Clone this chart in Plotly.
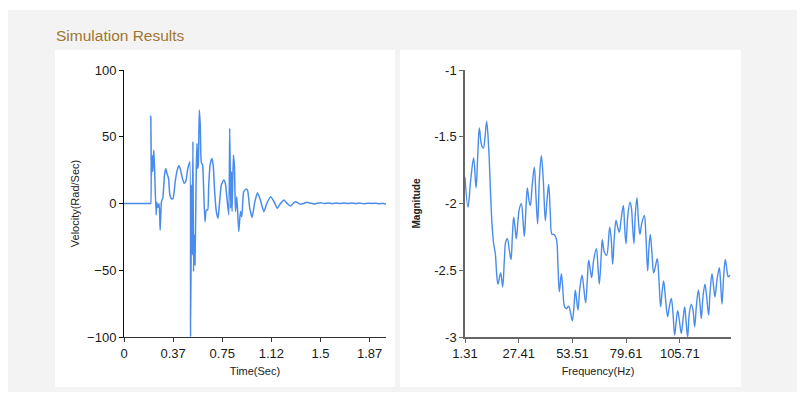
import plotly.graph_objects as go

# ---- Velocity vs time (left chart) ----
time_s = [0.0, 0.1, 0.19, 0.2, 0.204, 0.205, 0.2095, 0.2146, 0.2197, 0.2273, 0.2324, 0.2452, 0.2503, 0.258, 0.268,
          0.276, 0.286, 0.296, 0.309, 0.319, 0.3295, 0.340, 0.350, 0.365, 0.3755, 0.391, 0.406,
          0.419, 0.432, 0.447, 0.460, 0.4725, 0.485, 0.498, 0.503, 0.508, 0.516, 0.521, 0.526,
          0.531, 0.536, 0.5415, 0.5466, 0.552, 0.557, 0.562, 0.567, 0.575, 0.582, 0.590, 0.600,
          0.608, 0.618, 0.628, 0.639, 0.646, 0.657, 0.672, 0.682, 0.692, 0.705, 0.718, 0.728,
          0.743, 0.762, 0.774, 0.787, 0.800, 0.807, 0.815, 0.820, 0.825, 0.835, 0.843, 0.851,
          0.861, 0.876, 0.889, 0.899, 0.914, 0.932, 0.943, 0.960, 0.978, 0.999, 1.019, 1.04,
          1.068, 1.09, 1.119, 1.145, 1.170, 1.195, 1.221, 1.245, 1.272, 1.29, 1.310, 1.33,
          1.349, 1.375, 1.400, 1.425, 1.451, 1.475, 1.502, 1.53, 1.56, 1.59, 1.62, 1.65, 1.68,
          1.71, 1.74, 1.77, 1.80, 1.83, 1.86, 1.89, 1.92, 1.95, 1.98, 2.0]
velocity = [0, 0, 0, 0, 0, 65.5, 21, 36, 24, 40, 29, -8.6, 1, -3, 0,
            -20, 1.4, 4, 21, 26.3, 22, 18.9, 6.4, 3.4, 4, 16.5, 25,
            28.3, 25, 18.3, 15.1, 16.9, 25, 30, 31.3, -99.8, 14, -38.6, 46.3,
            -51, -23.6, -46, -13.6, 27.6, 45, 26.3, 28.8, 70, 58.8, 31, 28.8,
            11, -13.6, -4.9, -4.9, 11.4, 28.8, 33.8, 27.6, 8.9, -6, -11, -1,
            13.9, 17.6, 15, 2.6, -8.6, 56.3, -3.6, 23.8, -6, 36.3, 27.6, -6,
            5, -21, -6, -10, 8.9, 10.6, 10, -3.6, -10.4, 1.4, 8.1, 3,
            -6.1, 0, 5.1, 1.5, -3.6, 0, 2.6, 0, -1.9, 0, 1.4, 0.3,
            -0.6, 0.2, 0.9, 0.2, -0.4, 0.2, 0.6, 0, 0.4, -0.1, 0.4, 0, 0.3,
            0, 0.3, -0.1, 0.3, -0.1, 0.2, 0, 0.2, -0.1, 0, -0.3]
time_tickvals = [0, 0.375, 0.75, 1.125, 1.5, 1.875]
time_ticktext = ["0", "0.37", "0.75", "1.12", "1.5", "1.87"]
vel_tickvals = [-100, -50, 0, 50, 100]

# ---- Magnitude vs frequency (right chart) ----
freq_hz = [1.31, 2.77, 4.06, 5.52, 6.66, 7.47, 8.28, 9.25, 10.22, 11.03, 11.84, 12.81, 13.62,
           14.43, 15.24, 16.05, 16.70, 17.35, 18.64, 19.62, 20.43, 21.07, 21.88, 22.86, 23.67,
           24.31, 24.96, 25.61, 26.26, 27.07, 27.72, 28.69, 29.50, 30.15, 30.96, 31.60, 32.41,
           33.06, 34.03, 35.01, 35.82, 36.63, 37.44, 38.41, 39.38, 40.35, 41.16, 41.97, 42.78,
           43.59, 44.56, 45.70, 46.51, 47.16, 48.13, 48.78, 49.75, 50.72, 51.69, 52.66, 53.47,
           54.28, 54.93, 55.58, 56.23, 57.04, 58.17, 58.98, 59.95, 60.76, 61.41, 62.22, 62.87,
           63.84, 65.14, 65.95, 66.60, 67.57,
           68.05, 69.03, 70.16, 71.62, 72.43, 73.08, 73.89, 74.70, 75.51, 76.32, 77.13, 78.26,
           78.91, 79.56, 80.37, 81.50, 82.15, 82.80, 83.44, 84.09, 84.90, 85.71, 86.36, 87.17,
           88.47, 89.11, 90.09, 90.73, 91.38, 92.19, 93.00, 93.81, 94.78, 95.59, 96.40, 97.05,
           97.86, 98.83, 99.81, 100.62, 101.59, 102.40, 103.21, 103.86, 104.67, 105.48, 106.45,
           107.26, 108.07, 108.72, 109.53, 110.34, 111.31, 112.12, 112.93, 113.74, 114.71,
           115.52, 116.17, 116.98, 117.95, 118.76, 119.73, 120.38, 121.35, 122.16, 122.81,
           123.78, 124.92, 125.56, 126.21, 127.02, 127.83, 128.64, 129.29, 130.10]
magnitude = [-1.803, -2.027, -1.828, -1.659, -1.883, -1.654, -1.435, -1.555, -1.585, -1.505, -1.386,
             -1.580, -1.878, -2.152, -2.301, -2.376, -2.525, -2.604, -2.520, -2.624, -2.425, -2.289,
             -2.264, -2.351, -2.420, -2.251, -2.102, -2.177, -2.264, -2.127, -2.040, -2.002, -2.127,
             -2.246, -2.027, -1.883, -1.978, -2.015, -1.853, -1.729, -1.953, -2.152, -1.828, -1.642,
             -1.828, -2.127, -1.978, -1.858, -2.077, -2.231, -2.231, -2.264, -2.475, -2.662, -2.525,
             -2.624, -2.774, -2.786, -2.769, -2.823, -2.878, -2.774, -2.649, -2.724, -2.799, -2.649,
             -2.537, -2.624, -2.744, -2.575, -2.425, -2.500, -2.555, -2.425, -2.338, -2.475, -2.604,
             -2.376,
             -2.271, -2.363, -2.388, -2.177, -2.276, -2.455, -2.251, -2.127, -2.177, -2.214, -2.127,
             -2.015, -2.177, -2.301, -2.102, -1.990, -2.027, -2.177, -2.301, -2.077, -1.958, -2.152,
             -2.231, -2.152, -2.090, -2.201, -2.505, -2.326, -2.231, -2.376, -2.520, -2.475, -2.413,
             -2.575, -2.774, -2.674, -2.580, -2.724, -2.848, -2.774, -2.711, -2.823, -2.985, -2.898,
             -2.803, -2.873, -2.973, -2.873, -2.774, -2.873, -2.998, -2.823, -2.754, -2.799, -2.923,
             -2.774, -2.649, -2.749, -2.861, -2.699, -2.604, -2.699, -2.836, -2.674, -2.525, -2.624,
             -2.699, -2.575, -2.480, -2.600, -2.754, -2.550, -2.420, -2.500, -2.550, -2.537]
freq_tickvals = [1.31, 27.41, 53.51, 79.61, 105.71]
mag_tickvals = [-3, -2.5, -2, -1.5, -1]

# The page body has an 8px margin, so the figure is drawn 8px in from the window edge.
OFF = 8
W, H = 805 - 2 * OFF, 400 - 2 * OFF
LINE = "#4a8cec"
FONT = "Liberation Sans, Arial, sans-serif"

def px_x(p):
    return (p - OFF) / W

def px_y(p):
    return (H - (p - OFF)) / H

fig = go.Figure()
fig.add_trace(go.Scatter(x=time_s, y=velocity, mode="lines", xaxis="x", yaxis="y",
                         line=dict(color=LINE, width=1.5, shape="spline", smoothing=0.5),
                         hoverinfo="x+y", showlegend=False, cliponaxis=True))
fig.add_trace(go.Scatter(x=freq_hz, y=magnitude, mode="lines", xaxis="x2", yaxis="y2",
                         line=dict(color=LINE, width=1.4, shape="spline", smoothing=1.0),
                         hoverinfo="x+y", showlegend=False))

axis_common = dict(showgrid=False, zeroline=False, ticks="outside", ticklen=4, automargin=False,
                   tickfont=dict(family=FONT, size=13, color="#1a1a1a"), showline=True)

fig.update_layout(
    width=W, height=H,
    margin=dict(l=0, r=0, t=0, b=0, pad=0),
    paper_bgcolor="white",
    plot_bgcolor="rgba(0,0,0,0)",
    font=dict(family=FONT),
    xaxis=dict(domain=[px_x(124), px_x(386)], range=[0, 2.0], anchor="y",
               tickmode="array", tickvals=time_tickvals, ticktext=time_ticktext,
               linecolor="#333", linewidth=1, tickcolor="#333",
               title=dict(text="Time(Sec)", font=dict(family=FONT, size=11, color="#222"), standoff=7),
               **axis_common),
    yaxis=dict(domain=[px_y(337), px_y(70)], range=[-100, 100], anchor="x",
               tickmode="array", tickvals=vel_tickvals,
               linecolor="#111", linewidth=1, tickcolor="#111",
               title=dict(text="Velocity(Rad/Sec)", font=dict(family=FONT, size=11, color="#222"), standoff=5),
               **axis_common),
    xaxis2=dict(domain=[px_x(465), px_x(731)], range=[1.31, 130.6], anchor="y2",
                tickmode="array", tickvals=freq_tickvals,
                ticktext=[str(v) for v in freq_tickvals],
                linecolor="#666", linewidth=1.5, tickcolor="#666",
                title=dict(text="Frequency(Hz)", font=dict(family=FONT, size=11, color="#222"), standoff=7),
                **axis_common),
    yaxis2=dict(domain=[px_y(337), px_y(70)], range=[-3, -1], anchor="x2",
                tickmode="array", tickvals=mag_tickvals,
                ticktext=[str(v) for v in mag_tickvals],
                linecolor="#666", linewidth=1.5, tickcolor="#666",
                title=dict(text="<b>Magnitude</b>", font=dict(family=FONT, size=10, color="#222"), standoff=12),
                **axis_common),
    shapes=[
        dict(type="rect", xref="paper", yref="paper", layer="below",
             x0=px_x(8), x1=1.0, y0=0, y1=px_y(10), fillcolor="#f3f3f3", line=dict(width=0)),
        dict(type="rect", xref="paper", yref="paper", layer="below",
             x0=px_x(55), x1=px_x(395), y0=px_y(387), y1=px_y(50), fillcolor="white", line=dict(width=0)),
        dict(type="rect", xref="paper", yref="paper", layer="below",
             x0=px_x(400), x1=px_x(741), y0=px_y(387), y1=px_y(50), fillcolor="white", line=dict(width=0)),
    ],
    annotations=[
        dict(text="Simulation Results", xref="paper", yref="paper", x=px_x(54), y=px_y(36),
             xanchor="left", yanchor="middle", showarrow=False,
             font=dict(family=FONT, size=15.5, color="#a0762f")),
    ],
)

fig.write_html("out.html")
